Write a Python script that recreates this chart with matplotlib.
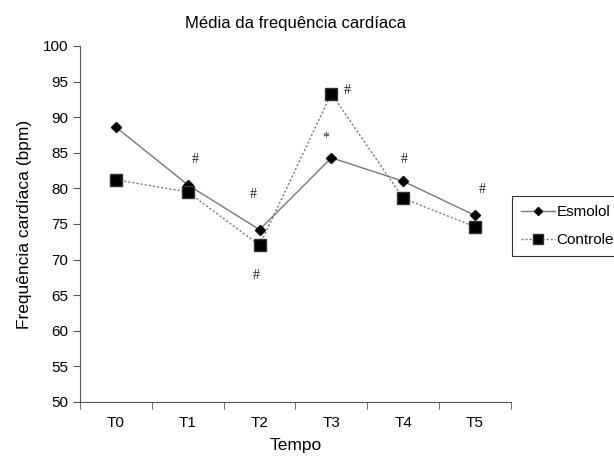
"""
Média da frequência cardíaca - Esmolol vs Controle.
"""

import matplotlib.pyplot as plt
from matplotlib.ticker import FixedLocator

plt.rcParams["font.family"] = ["Liberation Sans", "DejaVu Sans"]

tempos = ["T0", "T1", "T2", "T3", "T4", "T5"]
esmolol = [88.6, 80.5, 74.2, 84.3, 81.0, 76.2]
controle = [81.2, 79.5, 72.0, 93.3, 78.6, 74.6]

# significance marks: (x position in category units, y value, symbol)
marcas_x = [1.11, 1.91, 1.95, 2.92, 3.22, 4.02, 5.10]
marcas_y = [84.1, 79.1, 67.7, 87.1, 93.8, 84.0, 79.8]
marcas_txt = ["#", "#", "#", "*", "#", "#", "#"]

fig = plt.figure(figsize=(6.14, 4.58), dpi=100)
ax = fig.add_axes([0.1303, 0.1223, 0.7019, 0.7773])

x = list(range(len(tempos)))
ax.plot(x, esmolol, color="#777777", lw=1.0, ls="-", marker="D", ms=5.5,
        mfc="black", mec="black", label="Esmolol", zorder=3)
ax.plot(x, controle, color="#777777", lw=1.0, ls=(0, (1.5, 1.5)), marker="s", ms=9,
        mfc="black", mec="#333333", label="Controle", zorder=3)

for mx, my, txt in zip(marcas_x, marcas_y, marcas_txt):
    ax.text(mx, my, txt, ha="center", va="center", fontsize=10,
            family=["Liberation Serif", "DejaVu Serif"], color="#222222")

ax.set_xlim(-0.5, 5.5)
ax.set_ylim(50, 100)
ax.set_yticks(range(50, 101, 5))
ax.set_xticks(x)
ax.set_xticklabels(tempos)
ax.xaxis.set_minor_locator(FixedLocator([i - 0.5 for i in range(len(tempos) + 1)]))
ax.tick_params(axis="x", which="major", length=0, pad=10, labelsize=11)
ax.tick_params(axis="x", which="minor", length=5, direction="out", color="#555555")
ax.tick_params(axis="y", length=5, direction="out", labelsize=11, color="#555555")

for side in ["top", "right"]:
    ax.spines[side].set_visible(False)
for side in ["left", "bottom"]:
    ax.spines[side].set_color("#555555")

ax.set_title("Média da frequência cardíaca", fontsize=12, pad=13)
ax.set_xlabel("Tempo", fontsize=12.5, labelpad=6)
ax.set_ylabel("Frequência cardíaca (bpm)", fontsize=12.5, labelpad=8)

leg = fig.legend(loc="upper left", bbox_to_anchor=(0.834, 0.572), fontsize=11,
                 frameon=True, fancybox=False, handlelength=2.2, borderpad=0.6,
                 labelspacing=0.9, handletextpad=0.1, borderaxespad=0,
                 markerscale=0.8)
leg.get_frame().set_edgecolor("black")
leg.get_frame().set_linewidth(0.8)

plt.savefig("out.png", dpi=100)
plt.close()
